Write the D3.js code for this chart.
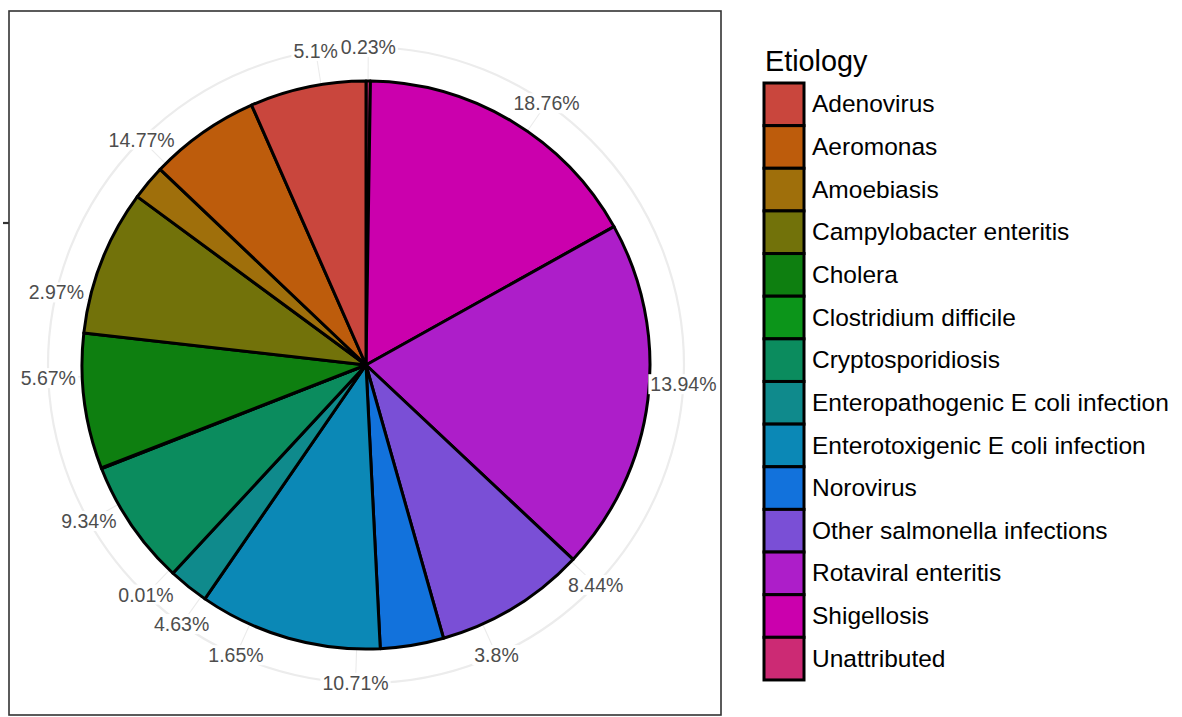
<!DOCTYPE html>
<html>
<head>
<meta charset="utf-8">
<script src="https://cdn.jsdelivr.net/npm/d3@7"></script>
<style>
  html, body { margin: 0; padding: 0; background: #ffffff; }
  svg { display: block; }
  text { font-family: "Liberation Sans", Arial, Helvetica, sans-serif; }
</style>
</head>
<body>
<svg id="chart" width="1182" height="717"></svg>
<script>
// ---- data ----
const categories = [
  "Adenovirus", "Aeromonas", "Amoebiasis", "Campylobacter enteritis", "Cholera",
  "Clostridium difficile", "Cryptosporidiosis", "Enteropathogenic E coli infection",
  "Enterotoxigenic E coli infection", "Norovirus", "Other salmonella infections",
  "Rotaviral enteritis", "Shigellosis", "Unattributed"
];
// slice shares (%), in legend order
const sliceValues = [6.6, 6.3, 2.0, 8.3, 7.7, 0.05, 7.15, 2.3, 10.4, 3.6, 8.6, 20.1, 16.65, 0.25];
const fillColors = [
  "#c9463d", "#bd5c0c", "#9f6f0b", "#72720a", "#0e7f10",
  "#0c951a", "#0b8c5e", "#0f8a8c", "#0b88b6", "#1272dc",
  "#7a4fd6", "#ad1ec9", "#cb00ad", "#cc2a74"
];
// theta-axis tick labels, clockwise from 12 o'clock
const tickLabels = ["0.23%", "18.76%", "13.94%", "8.44%", "3.8%", "10.71%", "1.65%",
  "4.63%", "0.01%", "9.34%", "5.67%", "2.97%", "14.77%", "5.1%"];
const tickValues = [0.23, 18.76, 13.94, 8.44, 3.8, 10.71, 1.65, 4.63, 0.01, 9.34, 5.67, 2.97, 14.77, 5.1];

// ---- layout ----
const svg = d3.select("#chart");
const cx = 366, cy = 365;
const rPie = 284;         // 0.40 of panel
const rOuter = 318;       // 0.45 of panel
const panel = {x: 9, y: 11, w: 712, h: 704};

// theta scale (ggplot stacks last level first, clockwise from top)
const total = d3.sum(sliceValues);
const theta = d3.scaleLinear().domain([0, total]).range([0, 2 * Math.PI]);

// stacked positions: last category starts at 0
const order = d3.range(categories.length).reverse();
let acc = 0;
const slices = order.map(i => {
  const s = {i, start: acc, end: acc + sliceValues[i]};
  acc += sliceValues[i];
  return s;
});

// break positions (cumulative midpoints of the label values)
let acc2 = 0;
const breaks = tickValues.map((v, k) => {
  const pos = acc2 + v / 2;
  acc2 += v;
  return {pos, label: tickLabels[k]};
});

// radial (r) scale for discrete x = ""
const rScale = d3.scaleLinear().domain([0.5, 1.5]).range([0, rPie]);

const g = svg.append("g").attr("transform", `translate(${cx},${cy})`);

// background grid
g.selectAll("line.tgrid").data(breaks).join("line")
  .attr("class", "tgrid")
  .attr("x1", 0).attr("y1", 0)
  .attr("x2", d => rOuter * Math.sin(theta(d.pos)))
  .attr("y2", d => -rOuter * Math.cos(theta(d.pos)))
  .attr("stroke", "#ebebeb").attr("stroke-width", 1.1);
g.append("circle").attr("r", rScale(1)).attr("fill", "none")
  .attr("stroke", "#ebebeb").attr("stroke-width", 2);
g.append("circle").attr("r", rOuter).attr("fill", "none")
  .attr("stroke", "#ececec").attr("stroke-width", 2.2);

// slices
const arc = d3.arc().innerRadius(rScale(0.5)).outerRadius(rScale(1.5));
g.selectAll("path.slice").data(slices).join("path")
  .attr("class", "slice")
  .attr("d", d => arc({startAngle: theta(d.start), endAngle: theta(d.end)}))
  .attr("fill", d => fillColors[d.i])
  .attr("stroke", "#000").attr("stroke-width", 3)
  .attr("stroke-linejoin", "round");

// theta labels with white background
const lab = g.selectAll("g.tlab").data(breaks).join("g")
  .attr("class", "tlab")
  .attr("transform", d => `translate(${rOuter * Math.sin(theta(d.pos))},${-rOuter * Math.cos(theta(d.pos))})`);
lab.append("rect").attr("fill", "#fff");
lab.append("text")
  .attr("text-anchor", "middle")
  .attr("dy", "0.36em")
  .attr("font-size", 19.5)
  .attr("fill", "#4d4d4d")
  .text(d => d.label);
lab.each(function() {
  const t = d3.select(this).select("text").node().getBBox();
  d3.select(this).select("rect")
    .attr("x", t.x - 2).attr("y", t.y + 1).attr("width", t.width + 4).attr("height", t.height - 2);
});

// panel border and r-axis tick
svg.append("rect")
  .attr("x", panel.x).attr("y", panel.y).attr("width", panel.w).attr("height", panel.h)
  .attr("fill", "none").attr("stroke", "#333333").attr("stroke-width", 1.6);
svg.append("line")
  .attr("x1", panel.x - 6).attr("x2", panel.x)
  .attr("y1", cy - rScale(1)).attr("y2", cy - rScale(1))
  .attr("stroke", "#333333").attr("stroke-width", 2.2);

// legend
const leg = svg.append("g");
const keyX = 764, keyTop = 83, keyW = 40, keyH = 42.64;
leg.append("text")
  .attr("x", 765).attr("y", 71)
  .attr("font-size", 28.8).attr("fill", "#000")
  .text("Etiology");
const keys = leg.selectAll("g.key").data(categories).join("g")
  .attr("class", "key")
  .attr("transform", (d, i) => `translate(0,${keyTop + i * keyH})`);
keys.append("rect")
  .attr("x", keyX).attr("y", 0).attr("width", keyW).attr("height", keyH)
  .attr("fill", (d, i) => fillColors[i])
  .attr("stroke", "#000").attr("stroke-width", 3);
keys.append("text")
  .attr("x", 812).attr("y", keyH / 2).attr("dy", "0.33em")
  .attr("font-size", 24.5).attr("fill", "#000")
  .text(d => d);
</script>
</body>
</html>
